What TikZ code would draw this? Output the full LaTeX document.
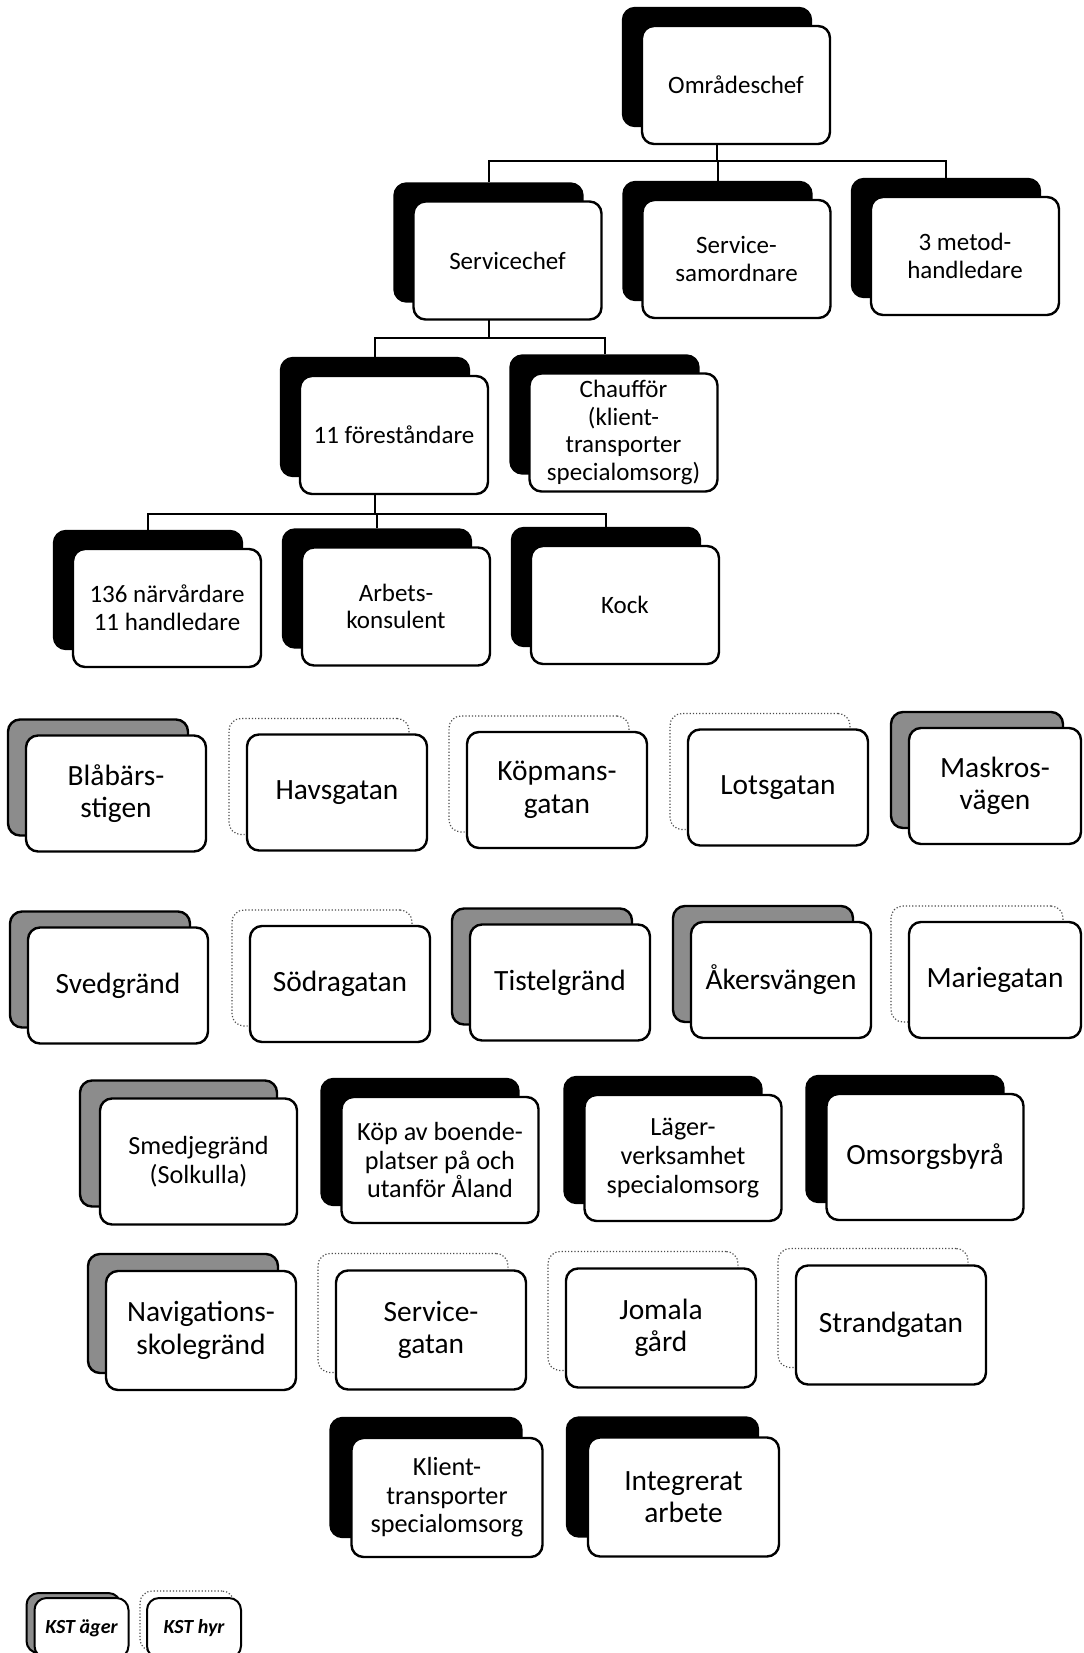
\documentclass[tikz,border=0pt]{standalone}
\usepackage{fontspec}
\setmainfont{Carlito}
\usetikzlibrary{backgrounds}

\begin{document}
\begin{tikzpicture}[x=0.5pt,y=-0.5pt,
  box/.style={draw,line width=1.2pt,rounded corners=6pt,fill=white,align=center,inner sep=0pt},
  shblack/.style={draw,line width=1.2pt,rounded corners=6pt,fill=black},
  shgray/.style={draw,line width=1.2pt,rounded corners=6pt,fill=black!45},
  shdots/.style={draw=black!70,densely dotted,line width=0.6pt,rounded corners=6pt},
  fmid/.style={font=\fontsize{13.1}{14.3}\selectfont},
  fbig/.style={font=\fontsize{14.7}{16.3}\selectfont},
  link/.style={line width=1pt}]
\useasboundingbox (0,0) rectangle (1083,1653);
\clip (0,0) rectangle (1083,1653);

% organisation
\begin{scope}[nodes={minimum width=94pt,minimum height=59pt,font=\fontsize{12.5}{13.8}\selectfont}]
\foreach \nm/\x/\y/\txt in {oc/736/85/{Områdeschef},
  sc/507.5/260.5/{Servicechef}, ss/736.5/259/{Service-\\samordnare},
  mh/965/256/{3 metod-\\handledare},
  fs/394/435/{11 föreståndare}, ch/623.5/432.5/{Chaufför\\(klient-\\transporter\\specialomsorg)},
  nv/167/608/{136 närvårdare\\11 handledare}, ak/396/606.5/{Arbets-\\konsulent},
  kk/625/605/{Kock}}
{
  \node[shblack] (\nm-b) at (\x-19,\y-18) {};
  \node[box] (\nm) at (\x,\y) {\txt};
}
\end{scope}

\coordinate (b1) at (717,161);
\coordinate (b2) at (488.5,337.5);
\coordinate (b3) at (375,513.5);
\begin{scope}[on background layer]
\draw[link] (oc-b.south) -- (b1);
\foreach \c in {sc,ss,mh} \draw[link] (\c-b.north) |- (b1);
\draw[link] (sc-b.south) -- (b2);
\foreach \c in {fs,ch} \draw[link] (\c-b.north) |- (b2);
\draw[link] (fs-b.south) -- (b3);
\foreach \c in {nv,ak,kk} \draw[link] (\c-b.north) |- (b3);
\end{scope}

% enheter
\begin{scope}[nodes={minimum width=90pt,minimum height=58pt},fbig]
\foreach \nm/\x/\y/\sh/\txt in {bl/116/793.5/shgray/{Blåbärs-\\stigen},
  hg/337/792.5/shdots/{Havsgatan}, kp/557/790/shdots/{Köpmans-\\gatan},
  lg/778/787.5/shdots/{Lotsgatan},
  sg/118/985.5/shgray/{Svedgränd}, sd/340/984/shdots/{Södragatan},
  tg/560/982.5/shgray/{Tistelgränd}, av/781/980/shgray/{Åkersvängen}}
{
  \node[\sh] (\nm-b) at (\x-18,\y-16) {};
  \node[box] (\nm) at (\x,\y) {\txt};
}
\end{scope}
\begin{scope}[nodes={minimum width=86pt,minimum height=58pt},fbig]
\foreach \nm/\x/\y/\sh/\txt in {mv/995/786/shgray/{Maskros-\\vägen},
  mg/995/980/shdots/{Mariegatan}}
{
  \node[\sh] (\nm-b) at (\x-18,\y-16) {};
  \node[box] (\nm) at (\x,\y) {\txt};
}
\end{scope}

\begin{scope}[nodes={minimum width=98.5pt,minimum height=63pt}]
\foreach \nm/\x/\y/\sh/\ft/\txt in {sm/198.5/1161.5/shgray/fmid/{Smedjegränd\\(Solkulla)},
  kb/440/1160/shblack/fmid/{Köp av boende-\\platser på och\\utanför Åland},
  lv/683/1158/shblack/fmid/{Läger-\\verksamhet\\specialomsorg},
  ob/925/1157/shblack/fbig/{Omsorgsbyrå}}
{
  \node[\sh] (\nm-b) at (\x-20,\y-18) {};
  \node[box,\ft] (\nm) at (\x,\y) {\txt};
}
\end{scope}

\begin{scope}[nodes={minimum width=95pt,minimum height=59.5pt},fbig]
\foreach \nm/\x/\y/\sh/\txt in {ns/201/1330.5/shgray/{Navigations-\\skolegränd},
  sv/431/1330/shdots/{Service-\\gatan}, jg/661/1328/shdots/{Jomala\\gård},
  st/891/1325/shdots/{Strandgatan}}
{
  \node[\sh] (\nm-b) at (\x-18,\y-17) {};
  \node[box] (\nm) at (\x,\y) {\txt};
}
\end{scope}

\begin{scope}[nodes={minimum width=95.5pt,minimum height=59.5pt}]
\foreach \nm/\x/\y/\ft/\txt in {kt/447/1497.5/fmid/{Klient-\\transporter\\specialomsorg},
  ia/683.5/1497/fbig/{Integrerat\\arbete}}
{
  \node[shblack] (\nm-b) at (\x-21,\y-20) {};
  \node[box,\ft] (\nm) at (\x,\y) {\txt};
}
\end{scope}

% teckenförklaring
\begin{scope}[nodes={minimum width=47pt,minimum height=30pt,rounded corners=4pt,
  font=\fontsize{10}{12}\selectfont\bfseries\itshape}]
\node[shgray,line width=1pt] (own-b) at (73.5,1623) {};
\node[box,line width=1pt] (own) at (81.5,1628) {KST äger};
\node[shdots] (rent-b) at (187,1621) {};
\node[box,line width=1pt] (rent) at (194,1628) {KST hyr};
\end{scope}
\end{tikzpicture}
\end{document}
